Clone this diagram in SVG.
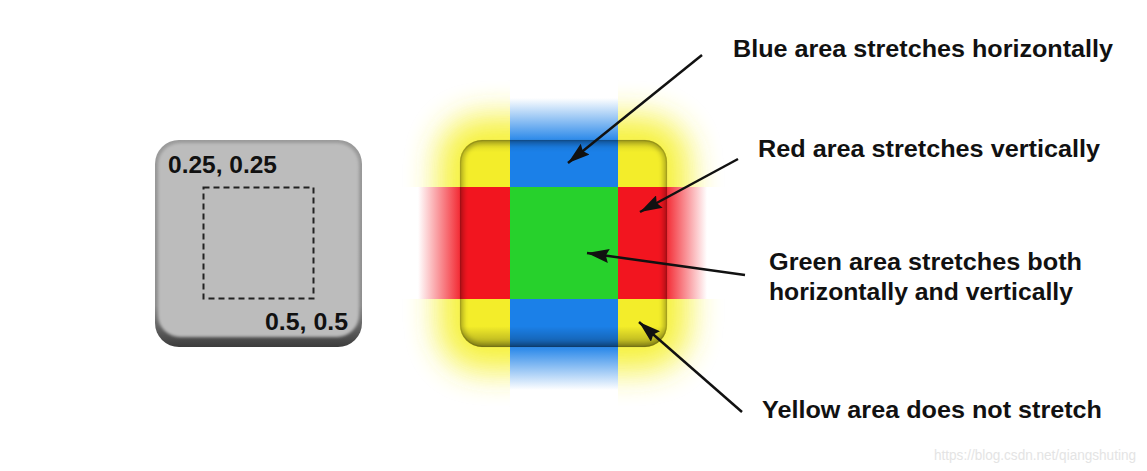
<svg xmlns="http://www.w3.org/2000/svg" width="1147" height="471" viewBox="0 0 1147 471">
  <style>
    .lbl { font-family: "Liberation Sans", Arial, sans-serif; font-weight: bold; font-size: 24px; fill: #111; }
    .coord { font-family: "Liberation Sans", Arial, sans-serif; font-weight: bold; font-size: 23px; fill: #111; }
    .wm { font-family: "Liberation Sans", Arial, sans-serif; font-size: 14px; fill: #e4e4e4; }
    .arrow { stroke: #111; stroke-width: 2.5; fill: none; marker-end: url(#ah); }
  </style>
  <defs>
    <marker id="ah" markerWidth="24" markerHeight="14" refX="22" refY="7" orient="auto" markerUnits="userSpaceOnUse">
      <path d="M0,0 L22,7 L0,14 L3,7 Z" fill="#111"/>
    </marker>
    <linearGradient id="grayGrad" x1="0" y1="0" x2="0" y2="1">
      <stop offset="0" stop-color="#9a9a9a"/>
      <stop offset="0.8" stop-color="#8c8c8c"/>
      <stop offset="1" stop-color="#3c3c3c"/>
    </linearGradient>
    <linearGradient id="blueCol" gradientUnits="userSpaceOnUse" x1="0" y1="98" x2="0" y2="390">
      <stop offset="0" stop-color="#1b80e8" stop-opacity="0"/>
      <stop offset="0.14" stop-color="#1b80e8" stop-opacity="0.9"/>
      <stop offset="0.86" stop-color="#1b80e8" stop-opacity="0.9"/>
      <stop offset="1" stop-color="#1b80e8" stop-opacity="0"/>
    </linearGradient>
    <linearGradient id="redRow" gradientUnits="userSpaceOnUse" x1="418" y1="0" x2="707" y2="0">
      <stop offset="0" stop-color="#f2151f" stop-opacity="0"/>
      <stop offset="0.145" stop-color="#f2151f" stop-opacity="0.9"/>
      <stop offset="0.86" stop-color="#f2151f" stop-opacity="0.9"/>
      <stop offset="1" stop-color="#f2151f" stop-opacity="0"/>
    </linearGradient>
    <linearGradient id="shade" x1="0" y1="0" x2="0" y2="1">
      <stop offset="0" stop-color="#000" stop-opacity="0.12"/>
      <stop offset="0.06" stop-color="#000" stop-opacity="0"/>
      <stop offset="0.9" stop-color="#000" stop-opacity="0"/>
      <stop offset="1" stop-color="#000" stop-opacity="0.3"/>
    </linearGradient>
    <filter id="glow" x="-50%" y="-50%" width="200%" height="200%">
      <feGaussianBlur stdDeviation="16"/>
    </filter>
    <filter id="soft" x="-10%" y="-10%" width="120%" height="120%">
      <feGaussianBlur stdDeviation="1.5"/>
    </filter>
    <filter id="edge" x="-10%" y="-10%" width="120%" height="120%">
      <feGaussianBlur stdDeviation="2.5"/>
    </filter>
    <clipPath id="corners">
      <rect x="380" y="60" width="130" height="127"/>
      <rect x="618" y="60" width="130" height="127"/>
      <rect x="380" y="299" width="130" height="130"/>
      <rect x="618" y="299" width="130" height="130"/>
    </clipPath>
    <clipPath id="sq">
      <rect x="460" y="140" width="207" height="207" rx="22"/>
    </clipPath>
  </defs>

  <g id="gray-box">
    <rect x="155" y="140" width="207" height="207" rx="24" fill="url(#grayGrad)"/>
    <rect x="158" y="143" width="201" height="194" rx="22" fill="#bcbcbc" filter="url(#soft)"/>
    <rect x="203.5" y="187.5" width="110" height="111" fill="none" stroke="#222" stroke-width="2" stroke-dasharray="6 4"/>
    <text class="coord" x="168" y="173" textLength="109" lengthAdjust="spacingAndGlyphs">0.25, 0.25</text>
    <text class="coord" x="265" y="330" textLength="83" lengthAdjust="spacingAndGlyphs">0.5, 0.5</text>
  </g>

  <g id="nine-patch">
    <g clip-path="url(#corners)">
      <rect x="438" y="116" width="251" height="255" rx="45" fill="#f5f02a" opacity="0.9" filter="url(#glow)"/>
      <rect x="460" y="140" width="207" height="207" rx="22" fill="#f5f02a"/>
    </g>
    <rect x="510" y="98" width="108" height="292" fill="url(#blueCol)"/>
    <rect x="418" y="187" width="289" height="112" fill="url(#redRow)"/>
    <g clip-path="url(#sq)">
      <rect x="460" y="140" width="50" height="47" fill="#f3ed2a"/>
      <rect x="618" y="140" width="49" height="47" fill="#f3ed2a"/>
      <rect x="460" y="299" width="50" height="48" fill="#f3ed2a"/>
      <rect x="618" y="299" width="49" height="48" fill="#f3ed2a"/>
      <rect x="510" y="140" width="108" height="47" fill="#1b80e8"/>
      <rect x="510" y="299" width="108" height="48" fill="#1b80e8"/>
      <rect x="460" y="187" width="50" height="112" fill="#f2151f"/>
      <rect x="618" y="187" width="49" height="112" fill="#f2151f"/>
      <rect x="510" y="187" width="108" height="112" fill="#27d12c"/>
      <rect x="460" y="140" width="207" height="207" fill="url(#shade)"/>
      <rect x="460" y="140" width="207" height="207" rx="22" fill="none" stroke="#000" stroke-opacity="0.28" stroke-width="7" filter="url(#edge)"/>
    </g>
    <rect x="460.5" y="140.5" width="206" height="206" rx="22" fill="none" stroke="#000" stroke-opacity="0.12" stroke-width="1.5"/>
  </g>

  <g id="connectors">
    <line class="arrow" x1="702" y1="55" x2="568" y2="163"/>
    <line class="arrow" x1="738" y1="159" x2="640" y2="212"/>
    <line class="arrow" x1="745" y1="275" x2="587" y2="253"/>
    <line class="arrow" x1="742" y1="412" x2="639" y2="322"/>
  </g>

  <g id="label-blue">
    <text class="lbl" x="733" y="57" textLength="380" lengthAdjust="spacingAndGlyphs">Blue area stretches horizontally</text>
  </g>
  <g id="label-red">
    <text class="lbl" x="758" y="157" textLength="342" lengthAdjust="spacingAndGlyphs">Red area stretches vertically</text>
  </g>
  <g id="label-green">
    <text class="lbl" x="769" y="270" textLength="313" lengthAdjust="spacingAndGlyphs">Green area stretches both</text>
    <text class="lbl" x="769" y="300" textLength="304" lengthAdjust="spacingAndGlyphs">horizontally and vertically</text>
  </g>
  <g id="label-yellow">
    <text class="lbl" x="762" y="418" textLength="340" lengthAdjust="spacingAndGlyphs">Yellow area does not stretch</text>
  </g>
  <text class="wm" x="934" y="460" textLength="202" lengthAdjust="spacingAndGlyphs">https://blog.csdn.net/qiangshuting</text>
</svg>
